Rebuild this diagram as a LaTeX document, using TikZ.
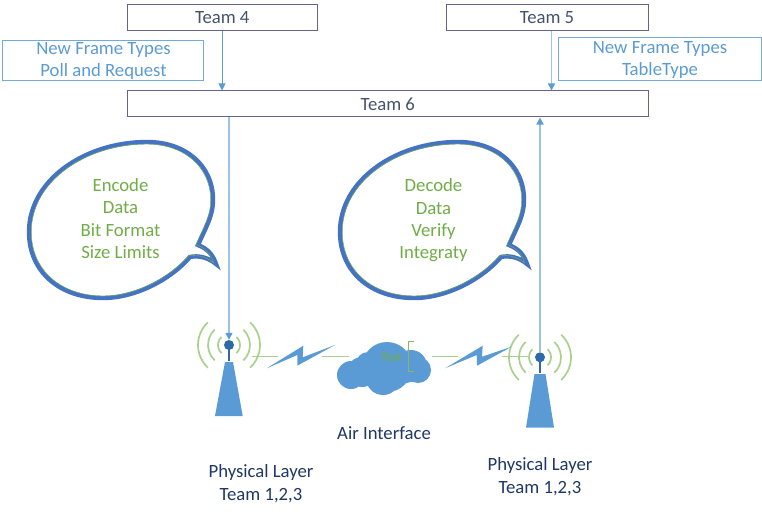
\documentclass[tikz,border=0pt]{standalone}
\usepackage{fontspec}
\setmainfont{Carlito}
\usetikzlibrary{arrows.meta,calc}
\definecolor{teamline}{HTML}{66638F}
\definecolor{teamtext}{HTML}{44546A}
\definecolor{blueA}{HTML}{5B9BD5}
\definecolor{blueL}{HTML}{9DC3E6}
\definecolor{blueD}{HTML}{2E6AA6}
\definecolor{bubbleline}{HTML}{4472C4}
\definecolor{greenT}{HTML}{70AD47}
\definecolor{greenL}{HTML}{A9D18E}
\definecolor{navy}{HTML}{1F3864}
\newcommand{\fs}{\fontsize{18.7}{22.3}\selectfont}
\newcommand{\bubblepath}{(198,245) .. controls (207,225) and (213,215) .. (213,200)
 .. controls (213,165) and (185,142) .. (147,142)
 .. controls (85,142) and (29,180) .. (29,232)
 .. controls (29,272) and (60,298) .. (103,298)
 .. controls (135,298) and (170,280) .. (190,257)
 .. controls (199,255) and (209,258) .. (216,264)
 .. controls (213,255) and (208,249) .. (198,245) -- cycle}
\newcommand{\tower}[1]{%
 \foreach \r in {11,21,31}{
  \draw[wave] ($(#1)+(-47:\r)$) arc (-47:47:\r);
  \draw[wave] ($(#1)+(133:\r)$) arc (133:227:\r);
 }
}
\tikzset{
 teambox/.style={draw=teamline,line width=1pt,fill=white,text=teamtext,font=\fs,inner sep=0pt,align=center},
 notebox/.style={draw=blueA!85!white,line width=1pt,inner sep=0pt},
 notetext/.style={text=blueA,font=\fs,inner sep=0pt,align=center},
 link/.style={blueA,line width=1pt,-{Triangle[length=7pt,width=7pt]}},
 wave/.style={greenL,line width=1.7pt},
 zap/.style={greenL,line width=1.5pt},
 bolt/.style={fill=blueA,draw=none},
 mast/.style={fill=blueA,draw=none},
 dot/.style={circle,fill=blueD,draw=none,minimum size=10pt,inner sep=0pt},
 saytext/.style={text=greenT,font=\fs,align=center,inner sep=0pt},
 label/.style={text=navy,font=\fontsize{18.7}{23}\selectfont,align=center,inner sep=0pt},
}
\begin{document}
\begin{tikzpicture}[x=1pt,y=-1pt]
\useasboundingbox (0,0) rectangle (762,516);
% boxes
\node[notebox,minimum width=201pt,minimum height=40pt] (newL) at (102.5,61) {};
\node[notetext] (newLt) at (103.5,61) {New Frame Types\\Poll and Request};
\node[notebox,minimum width=203pt,minimum height=43pt] (newR) at (659.5,59.5) {};
\node[notetext] (newRt) at (660,60) {New Frame Types\\TableType};
\node[teambox,minimum width=189.5pt,minimum height=26.5pt] (t4) at (222.25,17.75) {Team 4};
\node[teambox,minimum width=202pt,minimum height=26.5pt] (t5) at (547,17.75) {Team 5};
\node[teambox,minimum width=520.5pt,minimum height=26pt] (t6) at (387.75,104) {Team 6};
% speech bubbles
\draw[bubbleline,line width=4.4pt,fill=white,line join=miter] \bubblepath;
\begin{scope}[shift={(121,220)},scale=0.975,shift={(-121,-220)}]
\draw[greenT,line width=0.5pt] \bubblepath;
\end{scope}
\node[saytext] (enc) at (120.5,218.5) {Encode\\Data\\Bit Format\\Size Limits};
\begin{scope}[shift={(311,0)}]
\draw[bubbleline,line width=4.4pt,fill=white,line join=miter] \bubblepath;
\begin{scope}[shift={(121,220)},scale=0.975,shift={(-121,-220)}]
\draw[greenT,line width=0.5pt] \bubblepath;
\end{scope}
\end{scope}
\node[saytext] (dec) at (433.5,220.5) {Decode\\Data\\Verify\\Integraty};
% towers
\coordinate (c1) at (229,345);
\coordinate (c2) at (540,357.3);
\tower{c1}
\tower{c2}
\fill[mast] (225,362) -- (233,362) -- (242.7,416) -- (215,416) -- cycle;
\fill[mast] (534.5,374) -- (545.5,374) -- (554,427.7) -- (526,427.7) -- cycle;
\draw[blueD,line width=2.6pt] (229,345) -- (229,361);
\draw[blueD,line width=2.6pt] (540,357) -- (540,372.5);
\node[dot] (d1) at (c1) {};
\node[dot] (d2) at (c2) {};
% cloud
\fill[blueA] (387,367) circle (25) (351,375) circle (14) (362,372) circle (15)
 (383,378) circle (17) (411,366) circle (16) (418,370) circle (13) (406,374) circle (9) (368,364) circle (12);
\node[text=greenT,font=\fontsize{13}{15}\selectfont,inner sep=0pt] (txt) at (391.5,357) {Text};
\coordinate (b1) at (414,341.7);
\coordinate (b2) at (414,371.7);
\draw[greenT!85!white,line width=1pt] (b1) -- (408.5,341.7) -- (408.5,371.7) -- (b2);
% zaps
\coordinate (z1a) at (252,356.5); \coordinate (z1b) at (278,356.5);
\coordinate (z2a) at (322,356.5); \coordinate (z2b) at (349,356.5);
\coordinate (z3a) at (432,356.5); \coordinate (z3b) at (458,356.5);
\coordinate (z4a) at (501.5,356.5); \coordinate (z4b) at (528,356.5);
\draw[zap] (z1a) -- (z1b);
\draw[zap] (z2a) -- (z2b);
\draw[zap] (z3a) -- (z3b);
\draw[zap] (z4a) -- (z4b);
\fill[bolt] (266.7,368.3) -- (303.3,345.7) -- (302.7,357.3) -- (335,345) -- (297.3,365.7) -- (297.3,355) -- cycle;
\fill[bolt] (445,368.3) -- (482.7,345.7) -- (482,356.7) -- (511.7,346.7) -- (477,365.7) -- (476.7,355) -- cycle;
% connectors
\draw[link] (t4.south -| 222,0) -- (t6.north -| 222,0);
\draw[link,draw=blueL,line width=1.6pt,-{Triangle[length=7pt,width=7pt,color=blueA]}] (t5.south -| 551.5,0) -- (t6.north -| 551.5,0);
\draw[link,draw=blueL,line width=1.4pt,-{Triangle[length=7pt,width=7pt,color=blueA]}] (t6.south -| d1) -- (d1.north);
\draw[link,draw=blueL,line width=1.6pt,-{Triangle[length=7pt,width=7pt,color=blueA]}] (d2.north) -- (t6.south -| d2);
% labels
\node[label] (air) at (384,433) {Air Interface};
\node[label] (ph1) at (261,483.5) {Physical Layer\\Team 1,2,3};
\node[label] (ph2) at (540,476.5) {Physical Layer\\Team 1,2,3};
\end{tikzpicture}
\end{document}
